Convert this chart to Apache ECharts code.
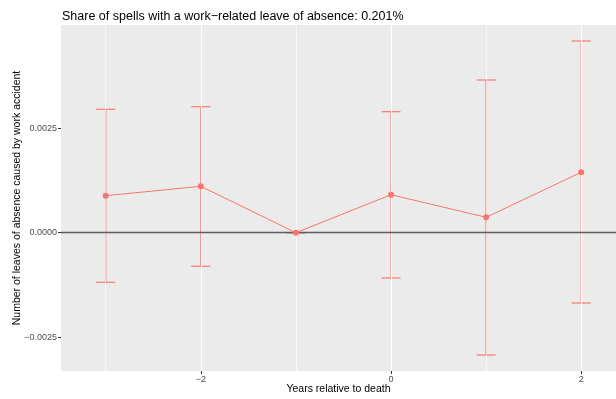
<!DOCTYPE html>
<html>
<head>
<meta charset="utf-8">
<script src="https://cdn.jsdelivr.net/npm/echarts@6/dist/echarts.min.js"></script>
<style>
  html, body { margin: 0; padding: 0; background: #fff; }
  #chart { width: 616px; height: 399px; }
</style>
</head>
<body>
<div id="chart"></div>
<script>
// Years relative to death and estimated effect with confidence bounds
const years = [-3, -2, -1, 0, 1, 2];
const estimates = [0.000885, 0.00111, 0.0, 0.000909, 0.000368, 0.001445];
const lowerBounds = [-0.001187, -0.000804, 0.0, -0.001084, -0.002926, -0.001682];
const upperBounds = [0.002952, 0.003014, 0.0, 0.002895, 0.003653, 0.004586];

// Axis breaks
const xMajorTicks = [-2, 0, 2];
const xMinorTicks = [-3, -1, 1];
const yMajorTicks = [-0.0025, 0, 0.0025];
const yMinorTicks = [-0.00125, 0.00125, 0.00375];

const titleText = 'Share of spells with a work\u2212related leave of absence: 0.201%';
const xTitle = 'Years relative to death';
const yTitle = 'Number of leaves of absence caused by work accident';

const FONT = '"Liberation Sans", Arial, Helvetica, sans-serif';
const RED = '#F8766D';

const fmtMinus = s => String(s).replace('-', '\u2212');

const gridLines = [];
xMinorTicks.forEach(v => gridLines.push({ xAxis: v, lineStyle: { color: '#fff', width: 0.6, type: 'solid' } }));
xMajorTicks.forEach(v => gridLines.push({ xAxis: v, lineStyle: { color: '#fff', width: 1.1, type: 'solid' } }));
yMinorTicks.forEach(v => gridLines.push({ yAxis: v, lineStyle: { color: '#fff', width: 0.6, type: 'solid' } }));
yMajorTicks.forEach(v => gridLines.push({ yAxis: v, lineStyle: { color: '#fff', width: 1.1, type: 'solid' } }));

const barData = years.map((x, i) => [x, lowerBounds[i], upperBounds[i]]);
const pointData = years.map((x, i) => [x, estimates[i]]);

const chart = echarts.init(document.getElementById('chart'), null, { renderer: 'canvas' });
chart.setOption({
  animation: false,
  backgroundColor: '#fff',
  title: {
    text: titleText,
    left: 57,
    top: 5,
    textStyle: { fontFamily: FONT, fontSize: 12.5, fontWeight: 'normal', color: '#000' }
  },
  grid: {
    left: 61, right: 0, top: 25, bottom: 28,
    show: true, backgroundColor: '#EBEBEB', borderWidth: 0,
    containLabel: false,
    outerBoundsMode: 'none'
  },
  xAxis: {
    type: 'value',
    min: -3.470, max: 2.366,
    name: xTitle,
    nameLocation: 'middle',
    nameGap: 13,
    nameMoveOverlap: false,
    nameTextStyle: { fontFamily: FONT, fontSize: 10.5, color: '#000', verticalAlign: 'top' },
    axisLine: { show: false, onZero: false },
    axisTick: { show: true, length: 3, lineStyle: { color: '#333', width: 1 }, customValues: xMajorTicks },
    axisLabel: { fontFamily: FONT, fontSize: 9, color: '#4D4D4D', margin: 4, customValues: xMajorTicks, formatter: v => fmtMinus(v) },
    splitLine: { show: false }
  },
  yAxis: {
    type: 'value',
    min: -0.003309, max: 0.004969,
    name: yTitle,
    nameLocation: 'middle',
    nameGap: 38,
    nameMoveOverlap: false,
    nameTextStyle: { fontFamily: FONT, fontSize: 10.5, color: '#000' },
    axisLine: { show: false, onZero: false },
    axisTick: { show: true, length: 3, lineStyle: { color: '#333', width: 1 }, customValues: yMajorTicks },
    axisLabel: { fontFamily: FONT, fontSize: 9, color: '#4D4D4D', margin: 4, customValues: yMajorTicks, formatter: v => fmtMinus(v.toFixed(4)) },
    splitLine: { show: false }
  },
  series: [
    {
      name: 'panel grid',
      type: 'line',
      data: [],
      z: 1,
      silent: true,
      markLine: { silent: true, symbol: 'none', label: { show: false }, animation: false, data: gridLines }
    },
    {
      name: 'zero line',
      type: 'line',
      data: [],
      z: 3,
      silent: true,
      markLine: {
        silent: true, symbol: 'none', label: { show: false }, animation: false,
        data: [{ yAxis: 0, lineStyle: { color: 'rgba(40,40,40,0.75)', width: 1.4, type: 'solid' } }]
      }
    },
    {
      name: 'confidence interval',
      type: 'custom',
      z: 4,
      data: barData,
      renderItem: (params, api) => {
        const x = api.value(0);
        const lo = api.coord([x, api.value(1)]);
        const hi = api.coord([x, api.value(2)]);
        const half = api.size([0.1, 0])[0];
        const style = { stroke: 'rgba(248,118,109,0.9)', lineWidth: 1.3 };
        return {
          type: 'group',
          children: [
            { type: 'line', shape: { x1: lo[0], y1: lo[1], x2: hi[0], y2: hi[1] }, style },
            { type: 'line', shape: { x1: lo[0] - half, y1: lo[1], x2: lo[0] + half, y2: lo[1] }, style },
            { type: 'line', shape: { x1: hi[0] - half, y1: hi[1], x2: hi[0] + half, y2: hi[1] }, style }
          ]
        };
      }
    },
    {
      name: 'estimate',
      type: 'line',
      z: 5,
      data: pointData,
      symbol: 'circle',
      symbolSize: 6,
      itemStyle: { color: RED },
      lineStyle: { color: RED, width: 1 }
    }
  ]
});
</script>
</body>
</html>
